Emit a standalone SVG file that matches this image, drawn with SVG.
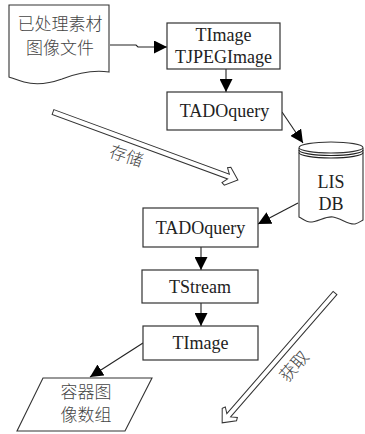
<svg xmlns="http://www.w3.org/2000/svg" width="365" height="434" viewBox="0 0 365 434">
<defs>
<marker id="ah" viewBox="0 0 10 10" refX="10" refY="5" markerWidth="10" markerHeight="10" markerUnits="userSpaceOnUse" orient="auto">
<path d="M0,0 L10,5 L0,10 z" fill="#000"/>
</marker>
<marker id="ahb" viewBox="0 0 12 12" refX="12" refY="6" markerWidth="13" markerHeight="13" markerUnits="userSpaceOnUse" orient="auto">
<path d="M0,0 L12,6 L0,12 z" fill="#000"/>
</marker>
</defs>
<style>
.box{fill:#fff;stroke:#333;stroke-width:1.2}
.shape{fill:#fff;stroke:#333;stroke-width:1.1}
.lat{font-family:"Liberation Serif","Times New Roman",serif;font-size:18px;fill:#222;text-anchor:middle}
.cjk{font-family:"Noto Sans CJK SC","Noto Sans",sans-serif;font-size:17px;fill:#444;text-anchor:middle;font-weight:300}
.con{stroke:#222;stroke-width:1.1;fill:none}
.hollow{fill:#fff;stroke:#333;stroke-width:1}
</style>
<g id="connectors">
<polyline class="con" points="110,45 136,45 138,47 167,47" marker-end="url(#ahb)"/>
<line class="con" x1="226" y1="69" x2="226" y2="92" marker-end="url(#ahb)"/>
<line class="con" x1="282" y1="112" x2="303" y2="143" marker-end="url(#ahb)"/>
<line class="con" x1="298" y1="203" x2="258" y2="224" marker-end="url(#ahb)"/>
<line class="con" x1="201" y1="247" x2="201" y2="270" marker-end="url(#ahb)"/>
<line class="con" x1="201" y1="303" x2="201" y2="326" marker-end="url(#ahb)"/>
<line class="con" x1="143" y1="343" x2="90" y2="377" marker-end="url(#ahb)"/>
</g>
<g id="doc">
<path class="shape" d="M9,5 L109,5 L109,72 C95,70 80,72 62,79 C48,84 35,85 24,82 C17,80 12,78 9,77 Z"/>
<text class="cjk" x="60" y="30">已处理素材</text>
<text class="cjk" x="60" y="54">图像文件</text>
</g>
<g id="timage1">
<rect class="box" x="167" y="23" width="113" height="46"/>
<text class="lat" x="223.5" y="41">TImage</text>
<text class="lat" x="223.5" y="63">TJPEGImage</text>
</g>
<g id="tadoquery1">
<rect class="box" x="167" y="92" width="115" height="38"/>
<text class="lat" x="224.5" y="117">TADOquery</text>
</g>
<g id="db">
<path class="shape" d="M299,148 L299,217 C303,219 306,222 310,222 C318,222 325,216 333,217 C341,218 348,225 355,224 C359,223 361,221 363,220 L363,148"/>
<ellipse class="shape" cx="331" cy="147.5" rx="32" ry="5.5"/>
<path class="con" d="M299,150 A32,5.5 0 0 0 363,150"/>
<path class="con" d="M299,152.5 A32,5.5 0 0 0 363,152.5"/>
<text class="lat" x="331" y="188">LIS</text>
<text class="lat" x="331" y="210">DB</text>
</g>
<g id="tadoquery2">
<rect class="box" x="143" y="208" width="115" height="39"/>
<text class="lat" x="200.5" y="234">TADOquery</text>
</g>
<g id="tstream">
<rect class="box" x="142" y="270" width="116" height="33"/>
<text class="lat" x="200" y="293">TStream</text>
</g>
<g id="timage2">
<rect class="box" x="143" y="326" width="115" height="34"/>
<text class="lat" x="200.5" y="349">TImage</text>
</g>
<g id="array">
<polygon class="shape" points="43,378 152,378 125,431 17,431"/>
<text class="cjk" x="86" y="398">容器图</text>
<text class="cjk" x="86" y="421">像数组</text>
</g>
<g id="store">
<polygon class="hollow" transform="translate(53,112) rotate(20.2)" points="0,-2.5 187,-2.5 183,-8 186,-9.5 197,0 186,9.5 183,8 187,2.5 0,2.5"/>
<text class="cjk" x="126" y="162" font-size="16" transform="rotate(18 126 157)">存储</text>
</g>
<g id="fetch">
<polygon class="hollow" transform="translate(335,293) rotate(131)" points="0,-2.5 162,-2.5 158,-8 161,-9.5 172,0 161,9.5 158,8 162,2.5 0,2.5"/>
<text class="cjk" x="295" y="372" font-size="16" transform="rotate(-49 295 367)">获取</text>
</g>
</svg>
